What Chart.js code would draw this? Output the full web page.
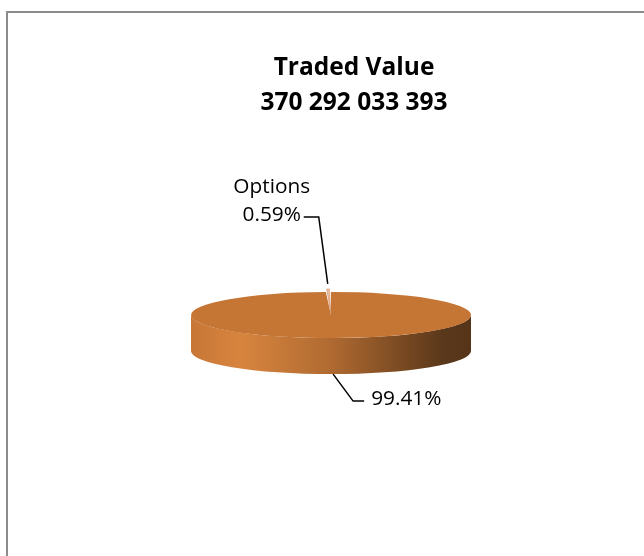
<!DOCTYPE html>
<html>
<head>
<meta charset="utf-8">
<script src="https://cdn.jsdelivr.net/npm/chart.js@4/dist/chart.umd.min.js"></script>
<style>
  html, body { margin: 0; padding: 0; background: #fff; }
  #wrap { position: relative; width: 644px; height: 556px; overflow: hidden; }
  #frame { position: absolute; left: 6px; top: 11px; width: 700px; height: 600px;
           border: 2px solid #8c8c8c; box-sizing: border-box; }
  canvas { position: absolute; left: 0; top: 0; }
</style>
</head>
<body>
<div id="wrap">
  <div id="frame"></div>
  <canvas id="c" width="644" height="556"></canvas>
</div>
<script>
// ---- data ----
const titleLines = ['Traded Value', '370 292 033 393'];
const categories = ['', 'Options'];
const shares = [99.41, 0.59];
const percentLabels = ['99.41%', '0.59%'];

// ---- style ----
const sliceColors = ['#C57635', '#F3BE9E'];
const TILT = 0.165;   // vertical squash of the pie
const DEPTH = 36;     // height of the pie wall in px

const pie3d = {
  id: 'pie3d',
  beforeDatasetsDraw(chart) {
    const ctx = chart.ctx;
    const arc = chart.getDatasetMeta(0).data[0];
    const cx = arc.x, cy = arc.y, r = arc.outerRadius, ry = r * TILT;
    // side wall
    const g = ctx.createLinearGradient(cx - r, 0, cx + r, 0);
    g.addColorStop(0, '#C87636');
    g.addColorStop(0.18, '#D7853E');
    g.addColorStop(0.5, '#B06A31');
    g.addColorStop(0.75, '#7A4A22');
    g.addColorStop(0.9, '#5A381B');
    g.addColorStop(1, '#553418');
    ctx.save();
    ctx.beginPath();
    ctx.ellipse(cx, cy, r, ry, 0, 0, Math.PI, false);
    ctx.lineTo(cx - r, cy + DEPTH);
    ctx.ellipse(cx, cy + DEPTH, r, ry, 0, Math.PI, 0, true);
    ctx.closePath();
    ctx.fillStyle = g;
    ctx.fill();
    ctx.restore();
    // squash the top face
    ctx.save();
    ctx.translate(cx, cy);
    ctx.scale(1, TILT);
    ctx.translate(-cx, -cy);
  },
  afterDatasetsDraw(chart) {
    chart.ctx.restore();
  },
  afterDraw(chart) {
    const ctx = chart.ctx;
    const meta = chart.getDatasetMeta(0);
    const big = meta.data[0], small = meta.data[1];
    const cx = big.x, cy = big.y, r = big.outerRadius, ry = r * TILT;
    ctx.save();
    // title
    ctx.fillStyle = '#000';
    ctx.textAlign = 'center';
    ctx.textBaseline = 'middle';
    ctx.font = 'bold 24.5px "Open Sans"';
    ctx.fillText(titleLines[0], cx + 23, 68);
    ctx.fillText(titleLines[1], cx + 23, 103);

    ctx.strokeStyle = '#000';
    ctx.lineWidth = 1.5;
    ctx.font = '20.8px "Open Sans"';

    // small slice label
    const mid = (small.startAngle + small.endAngle) / 2;
    const off = small.options.offset || 0;
    const tipX = small.x + Math.cos(mid) * (r + off) ;
    const tipY = cy + Math.sin(mid) * (r + off) * TILT - 2;
    const elbowX = tipX - 9, elbowY = tipY - 67;
    const endX = elbowX - 15;
    ctx.beginPath();
    ctx.moveTo(tipX, tipY);
    ctx.lineTo(elbowX, elbowY);
    ctx.lineTo(endX, elbowY);
    ctx.stroke();
    ctx.textAlign = 'center';
    ctx.fillText(categories[1], endX - 32, elbowY - 30);
    ctx.fillText(percentLabels[1], endX - 32, elbowY - 2);

    // big slice label
    const bmid = (big.startAngle + big.endAngle) / 2;
    const sX = cx + Math.cos(bmid) * r * 0.05 + 2;
    const sY = cy + ry + DEPTH;
    const eX = sX + 20, eY = sY + 27;
    ctx.beginPath();
    ctx.moveTo(sX, sY);
    ctx.lineTo(eX, eY);
    ctx.lineTo(eX + 11, eY);
    ctx.stroke();
    ctx.textAlign = 'left';
    if (categories[0]) ctx.fillText(categories[0], eX + 18, eY - 26);
    ctx.fillText(percentLabels[0], eX + 18, eY - 2);
    ctx.restore();
  }
};

new Chart(document.getElementById('c'), {
  type: 'pie',
  data: {
    labels: categories,
    datasets: [{
      data: shares,
      backgroundColor: sliceColors,
      borderWidth: [0, 1],
      borderColor: ['#C57635', '#C98A62'],
      offset: [0, 36]
    }]
  },
  options: {
    responsive: false,
    animation: false,
    radius: 140,
    layout: { padding: { left: 18, right: 0, top: 74, bottom: 0 } },
    plugins: {
      legend: { display: false },
      tooltip: { enabled: false },
      title: { display: false }
    }
  },
  plugins: [pie3d]
});
</script>
</body>
</html>
